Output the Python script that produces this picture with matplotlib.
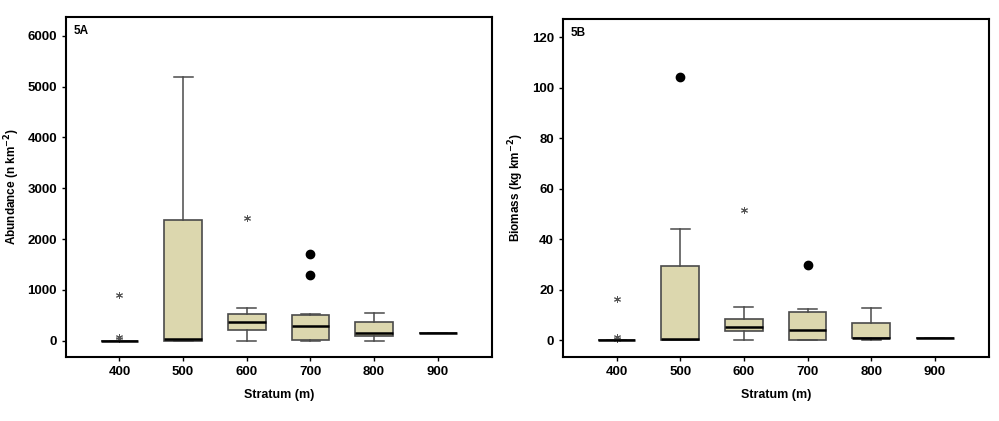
import numpy as np
import matplotlib.pyplot as plt

plt.rcParams['font.family'] = ['Liberation Sans', 'DejaVu Sans']
plt.rcParams['font.weight'] = 'bold'

# 深度分层
strata = ["400", "500", "600", "700", "800", "900"]

# 5A 丰度 (n km-2)
ab_q1 = [0, 0, 205, 8, 92, 157]
ab_med = [0, 40, 368, 289, 157, 157]
ab_q3 = [0, 2382, 532, 500, 374, 157]
ab_lo = [0, 0, 0, 0, 0, 157]
ab_hi = [0, 5185, 638, 525, 551, 157]
ab_circles = [[], [], [], [1700, 1300], [], []]
ab_stars = [[894, 75, 40], [], [2409], [], [], []]

# 5B 生物量 (kg km-2)
bm_q1 = [0, 0, 3.8, 0.1, 0.8, 0.9]
bm_med = [0, 0.5, 5.4, 4.2, 1.1, 0.9]
bm_q3 = [0, 29.6, 8.4, 11.2, 6.7, 0.9]
bm_lo = [0, 0, 0, 0, 0, 0.9]
bm_hi = [0, 44.1, 13.1, 12.5, 12.8, 0.9]
bm_circles = [[], [104.4], [], [29.8], [], []]
bm_stars = [[16.2, 1.5, 0.6], [], [51.5], [], [], []]

box_color = "#DCD7AE"
edge = "#4a4a4a"


def draw_panel(ax, q1, med, q3, lo, hi, circles, stars):
    stats = []
    for i in range(len(strata)):
        stats.append(dict(q1=q1[i], med=med[i], q3=q3[i],
                          whislo=lo[i], whishi=hi[i], fliers=[]))
    pos = np.arange(1, len(strata) + 1)
    ax.bxp(stats, positions=pos, widths=0.59, patch_artist=True,
           showfliers=False,
           boxprops=dict(facecolor=box_color, edgecolor=edge, linewidth=1.2),
           medianprops=dict(color="black", linewidth=1.8),
           whiskerprops=dict(color=edge, linewidth=1.1),
           capprops=dict(color=edge, linewidth=1.1),
           capwidths=0.3)
    # 异常值：圆点和星号
    for i, p in enumerate(pos):
        if circles[i]:
            ax.plot([p] * len(circles[i]), circles[i], "o", color="black",
                    markersize=6)
        if stars[i]:
            ax.plot([p] * len(stars[i]), stars[i], marker=(6, 2, 0),
                    linestyle="none", color="#555555", markersize=5,
                    markeredgewidth=0.7)
    ax.set_xticks(pos)
    ax.set_xticklabels(strata)
    ax.set_xlim(0.16, 6.85)
    ax.set_xlabel("Stratum (m)", fontsize=9, fontweight="bold", labelpad=8)
    ax.tick_params(axis="both", labelsize=9.5, length=3, width=1)
    for s in ax.spines.values():
        s.set_linewidth(1.5)


fig = plt.figure(figsize=(9.99, 4.21), dpi=100)

ax1 = fig.add_axes([0.066, 0.152, 0.4264, 0.808])
draw_panel(ax1, ab_q1, ab_med, ab_q3, ab_lo, ab_hi, ab_circles, ab_stars)
ax1.set_ylim(-321, 6372)
ax1.set_yticks([0, 1000, 2000, 3000, 4000, 5000, 6000])
ax1.set_ylabel("Abundance (n km$^{\\mathbf{-2}}$)", fontsize=8.5,
               fontweight="bold")
ax1.text(0.018, 0.975, "5A", transform=ax1.transAxes, fontsize=8.5,
         fontweight="bold", va="top")

ax2 = fig.add_axes([0.5636, 0.152, 0.4264, 0.803])
draw_panel(ax2, bm_q1, bm_med, bm_q3, bm_lo, bm_hi, bm_circles, bm_stars)
ax2.set_ylim(-6.6, 127.2)
ax2.set_yticks([0, 20, 40, 60, 80, 100, 120])
ax2.set_ylabel("Biomass (kg km$^{\\mathbf{-2}}$)", fontsize=8.5,
               fontweight="bold")
ax2.text(0.018, 0.975, "5B", transform=ax2.transAxes, fontsize=8.5,
         fontweight="bold", va="top")

fig.savefig("out.png", dpi=100)
